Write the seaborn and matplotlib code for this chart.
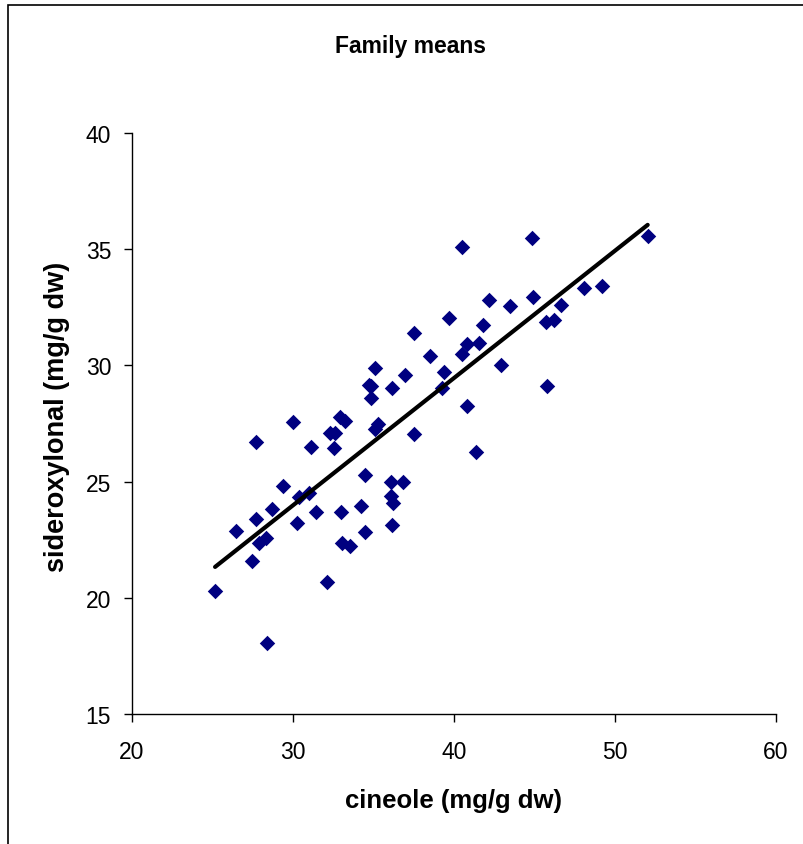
import numpy as np
import pandas as pd
import matplotlib
matplotlib.use("Agg")
import matplotlib.pyplot as plt
import seaborn as sns
from matplotlib.patches import Rectangle

# family means
cineole = [25.16, 26.45, 27.44, 27.70, 27.70, 27.86, 28.30, 28.40, 28.70, 29.40,
           29.98, 30.25, 30.40, 31.00, 31.10, 31.40, 32.10, 32.30, 32.55, 32.60,
           32.90, 32.96, 33.04, 33.20, 33.56, 34.20, 34.45, 34.46, 34.70, 34.87,
           34.84, 35.10, 35.08, 35.28, 36.10, 36.12, 36.10, 36.20, 36.12, 36.85,
           36.95, 37.54, 37.54, 38.50, 39.24, 39.40, 39.66, 40.49, 40.49, 40.80,
           40.80, 41.36, 41.53, 41.80, 42.20, 42.94, 43.50, 44.82, 44.90, 45.74,
           45.80, 46.20, 46.63, 48.05, 49.18, 52.03]
sideroxylonal = [20.28, 22.86, 21.57, 23.40, 26.70, 22.36, 22.56, 18.04, 23.80, 24.80,
                 27.55, 23.20, 24.32, 24.50, 26.50, 23.70, 20.70, 27.10, 26.45, 27.08,
                 27.77, 23.70, 22.36, 27.60, 22.24, 23.94, 25.30, 22.85, 29.16, 29.10,
                 28.60, 29.89, 27.26, 27.48, 24.97, 29.02, 24.40, 24.10, 23.13, 25.00,
                 29.59, 31.38, 27.05, 30.39, 29.02, 29.70, 32.04, 35.11, 30.49, 30.92,
                 28.25, 26.29, 30.96, 31.75, 32.83, 30.02, 32.55, 35.48, 32.93, 31.85,
                 29.13, 31.97, 32.61, 33.33, 33.43, 35.58]

x_ticks = [20, 30, 40, 50, 60]
y_ticks = [15, 20, 25, 30, 35, 40]

df = pd.DataFrame({"cineole": cineole, "sideroxylonal": sideroxylonal})

sns.set_style("ticks")
plt.rcParams['font.family'] = ['Liberation Sans', 'DejaVu Sans']
plt.rcParams['text.color'] = 'black'
plt.rcParams['axes.labelcolor'] = 'black'
plt.rcParams['xtick.color'] = 'black'
plt.rcParams['ytick.color'] = 'black'

fig = plt.figure(figsize=(8.04, 8.45), dpi=100)
ax = fig.add_axes([132 / 804, 1 - 715 / 845, (776 - 132) / 804, (715 - 134) / 845])

sns.regplot(data=df, x="cineole", y="sideroxylonal", ax=ax, ci=None, truncate=True,
            marker="D",
            scatter_kws=dict(s=62, color="#000080", linewidths=0, alpha=1),
            line_kws=dict(color="black", lw=3))

ax.set_xlim(x_ticks[0], x_ticks[-1])
ax.set_ylim(y_ticks[0], y_ticks[-1])
ax.set_xticks(x_ticks)
ax.set_yticks(y_ticks)
ax.tick_params(labelsize=16.5, length=6, width=1)
ax.tick_params(axis="x", pad=13)
ax.tick_params(axis="y", pad=9)
for s in ["top", "right"]:
    ax.spines[s].set_visible(False)
for s in ["left", "bottom"]:
    ax.spines[s].set_color("black")
    ax.spines[s].set_linewidth(1)

ax.set_xlabel("cineole (mg/g dw)", fontsize=18.5, fontweight="bold", labelpad=18)
ax.set_ylabel("sideroxylonal (mg/g dw)", fontsize=19.5, fontweight="bold")
ax.yaxis.set_label_coords(-0.096, 0.513)
fig.text(411 / 804, 1 - 46 / 845, "Family means", ha="center", va="center",
         fontsize=16.5, fontweight="bold")

# outer frame of the chart area
fig.patches.append(Rectangle((8 / 804, -0.1), 1.2, 1 - 6 / 845 + 0.1,
                             transform=fig.transFigure, fill=False,
                             edgecolor="black", lw=1.2))

fig.savefig("out.png", dpi=100)
